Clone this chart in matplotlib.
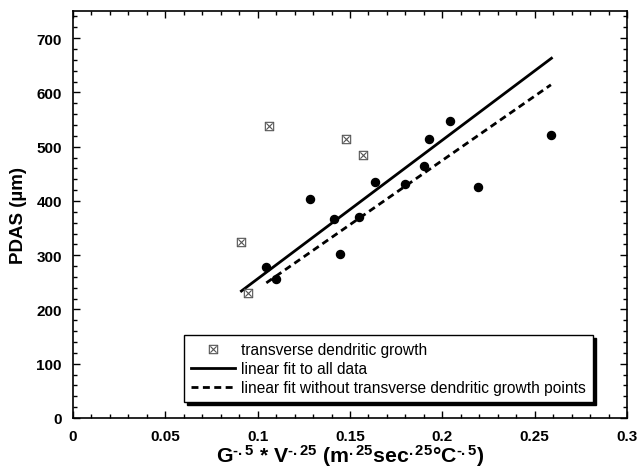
import matplotlib
matplotlib.use("Agg")
import matplotlib.pyplot as plt
from matplotlib.path import Path
from matplotlib.ticker import MultipleLocator, FormatStrFormatter

plt.rcParams["font.family"] = ["Liberation Sans", "DejaVu Sans"]
plt.rcParams["mathtext.fontset"] = "custom"
plt.rcParams["mathtext.rm"] = "Liberation Sans:bold"
plt.rcParams["mathtext.it"] = "Liberation Sans:bold"
plt.rcParams["mathtext.bf"] = "Liberation Sans:bold"

# ------------------------------------------------------------
# Datos
# ------------------------------------------------------------
x_points = [0.1047, 0.1101, 0.1283, 0.1413, 0.1447, 0.1551, 0.1636,
            0.1796, 0.1899, 0.1928, 0.2043, 0.2195, 0.2588]
y_points = [278, 257, 403, 366, 303, 371, 435,
            432, 465, 514, 547, 425, 521]

x_transverse = [0.0912, 0.0948, 0.1061, 0.1477, 0.1569]
y_transverse = [325, 231, 538, 515, 484]

x_fit_all = [0.0912, 0.2591]
y_fit_all = [234, 663]

x_fit_notrans = [0.1047, 0.2588]
y_fit_notrans = [249, 614]

# marcador: cuadrado con una X adentro
verts = [(-1, -1), (1, -1), (1, 1), (-1, 1), (-1, -1),
         (-0.75, -0.75), (0.75, 0.75), (-0.75, 0.75), (0.75, -0.75)]
codes = [Path.MOVETO, Path.LINETO, Path.LINETO, Path.LINETO, Path.CLOSEPOLY,
         Path.MOVETO, Path.LINETO, Path.MOVETO, Path.LINETO]
box_x = Path(verts, codes)

fig = plt.figure(figsize=(6.39, 4.77), dpi=100)
ax = fig.add_axes([0.1142, 0.1216, 0.8670, 0.8532])

ax.plot(x_points, y_points, "o", color="black", markersize=5.8, zorder=3)
ax.plot(x_transverse, y_transverse, linestyle="none", marker=box_x,
        markersize=6, mfc="none", mec="#555555", mew=0.8, zorder=3,
        label="transverse dendritic growth")
ax.plot(x_fit_all, y_fit_all, color="black", linewidth=2,
        label="linear fit to all data")
ax.plot(x_fit_notrans, y_fit_notrans, color="black", linewidth=2,
        dashes=(2.5, 1.6), label="linear fit without transverse dendritic growth points")

ax.set_xlim(0, 0.3)
ax.set_ylim(0, 750)
ax.xaxis.set_major_locator(MultipleLocator(0.05))
ax.xaxis.set_minor_locator(MultipleLocator(0.01))
ax.yaxis.set_major_locator(MultipleLocator(100))
ax.yaxis.set_minor_locator(MultipleLocator(20))
ax.xaxis.set_major_formatter(FormatStrFormatter("%g"))
ax.set_yticks([0, 100, 200, 300, 400, 500, 600, 700])

ax.tick_params(which="both", direction="in", top=True, right=True,
               width=1, labelsize=11, pad=8)
ax.tick_params(which="major", length=5)
ax.tick_params(which="minor", length=3)
for lab in ax.get_xticklabels() + ax.get_yticklabels():
    lab.set_fontweight("bold")
for sp in ax.spines.values():
    sp.set_linewidth(1.2)

ax.set_ylabel("PDAS (µm)", fontsize=13.5, fontweight="bold", labelpad=7)
ax.set_xlabel(r"G$^{\text{-}.5}$ * V$^{\text{-}.25}$ (m$^{.25}$sec$^{.25}$°C$^{\text{-}.5}$)",
              fontsize=15.3, fontweight="bold", labelpad=-1)

leg = ax.legend(loc="lower right", bbox_to_anchor=(0.9386, 0.0393),
                fontsize=11.2, frameon=True, fancybox=False,
                shadow={"color": "black", "alpha": 1},
                handlelength=2.8, handletextpad=0.4, borderpad=0.45,
                labelspacing=0.25, borderaxespad=0)
leg.get_frame().set_edgecolor("black")
leg.get_frame().set_linewidth(1)

fig.savefig("out.png", dpi=100)
